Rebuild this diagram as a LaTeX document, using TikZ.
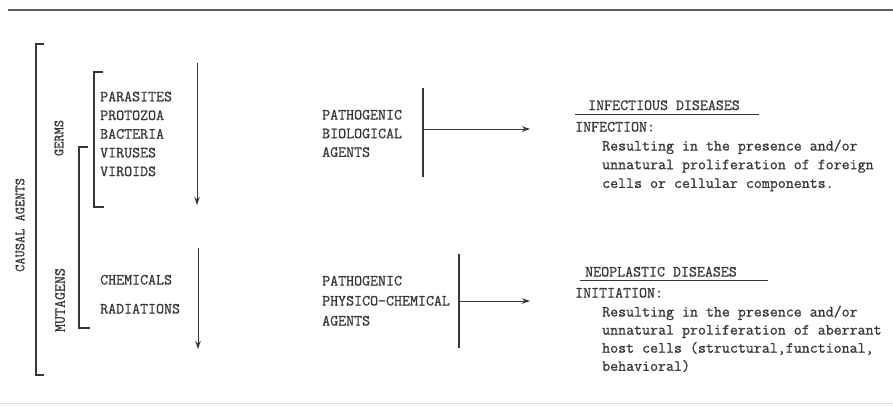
\documentclass[tikz,border=0pt]{standalone}
\usepackage{fontspec}
\newfontfamily\typer[FakeBold=0.9]{Latin Modern Mono}
\usetikzlibrary{arrows.meta}
\definecolor{InkClr}{RGB}{55,55,55}
\definecolor{RuleClr}{RGB}{95,95,95}

\begin{document}
\begin{tikzpicture}[x=1pt,y=-1pt,
  txt/.style={font=\typer\fontsize{15.5}{18.7}\selectfont,text=InkClr,
    inner sep=0pt,align=left,anchor=base west},
  sidetxt/.style={txt,font=\typer\fontsize{14}{14}\selectfont,rotate=90,anchor=center},
  brk/.style={draw=InkClr,line width=1.3pt},
  arr/.style={draw=InkClr,line width=1pt,-{Stealth[length=8pt,width=5.5pt]}}]

\useasboundingbox (0,0) rectangle (893,405);

\draw[RuleClr,line width=1.8pt] (8,10) -- (893,10);
\draw[gray!25,line width=1pt] (0,403) -- (893,403);

\coordinate (CAt) at (36,44);  \coordinate (CAb) at (36,375);
\coordinate (GEt) at (94,72);  \coordinate (GEb) at (94,207);
\coordinate (MUt) at (79,147); \coordinate (MUb) at (79,328);

\draw[brk] ([xshift=8pt]CAt) -- (CAt) -- (CAb) -- ([xshift=8pt]CAb);
\draw[brk] ([xshift=9pt]GEt) -- (GEt) -- (GEb) -- ([xshift=10pt]GEb);
\draw[brk] ([xshift=9pt]MUt) -- (MUt) -- (MUb) -- ([xshift=11pt]MUb);

\node[sidetxt] (causal) at (20,225) {CAUSAL AGENTS};
\node[sidetxt] (germs) at (59,138) {GERMS};
\node[sidetxt,font=\typer\fontsize{15.5}{14}\selectfont] (mutagens) at (60,300) {MUTAGENS};

\node[txt] (germlist) at (100,176.1) {PARASITES\\PROTOZOA\\BACTERIA\\VIRUSES\\VIROIDS};
\node[txt] (chem) at (100,284.5) {CHEMICALS};
\node[txt] (rad) at (100,313.5) {RADIATIONS};

\coordinate (GAt) at (197,63);  \coordinate (GAb) at (197,205);
\coordinate (MAt) at (198,248); \coordinate (MAb) at (198,349);
\draw[arr] (GAt) -- (GAb);
\draw[arr] (MAt) -- (MAb);

\node[txt] (pathbio) at (322,156.9) {PATHOGENIC\\BIOLOGICAL\\AGENTS};
\node[txt,font=\typer\fontsize{15.5}{20}\selectfont] (pathchem) at (322,325.5)
  {PATHOGENIC\\PHYSICO-CHEMICAL\\AGENTS};

\coordinate (PBt) at (423,88);  \coordinate (PBb) at (423,177);
\coordinate (PCt) at (459,254); \coordinate (PCb) at (459,348);
\draw[brk] (PBt) -- (PBb);
\draw[brk] (PCt) -- (PCb);

\coordinate (PBm) at (423,129); \coordinate (infend) at (530,129);
\coordinate (PCm) at (459,301); \coordinate (neoend) at (530,301);
\draw[arr] (PBm) -- (infend);
\draw[arr] (PCm) -- (neoend);

\node[txt] (infdis) at (588,110) {INFECTIOUS DISEASES};
\draw[InkClr,line width=1pt] (575,114) -- (759,114);
\node[txt] (infect) at (575,131.5) {INFECTION:};
\node[txt] (infdesc) at (602,187.9)
  {Resulting in the presence and/or\\unnatural proliferation of foreign\\cells or cellular components.};

\node[txt] (neodis) at (585,276.5) {NEOPLASTIC DISEASES};
\draw[InkClr,line width=1pt] (580,280) -- (768,280);
\node[txt] (init) at (575,297.5) {INITIATION:};
\node[txt,font=\typer\fontsize{15.5}{18.1}\selectfont] (neodesc) at (602,370.8)
  {Resulting in the presence and/or\\unnatural proliferation of aberrant\\host cells (structural,functional,\\behavioral)};

\end{tikzpicture}
\end{document}
